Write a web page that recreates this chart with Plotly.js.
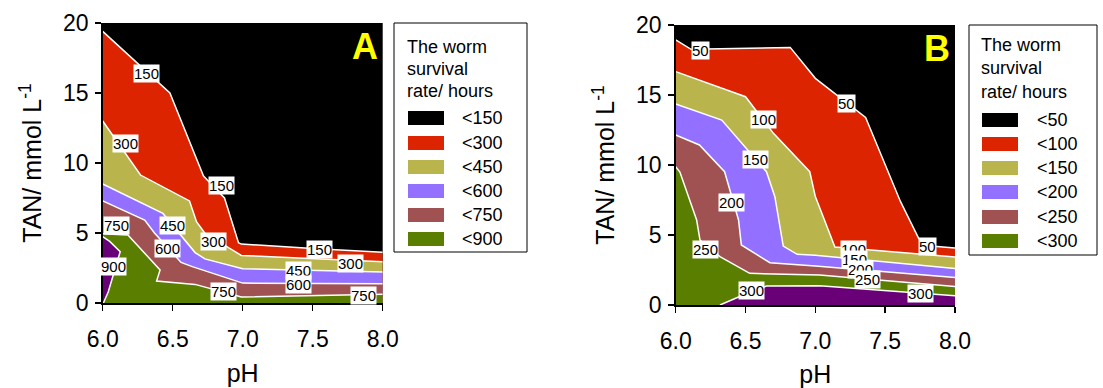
<!DOCTYPE html>
<html>
<head>
<meta charset="utf-8">
<script src="https://cdn.plot.ly/plotly-3.0.1.min.js"></script>
<style>html,body{margin:0;padding:0;background:#fff;}#chart{width:1103px;height:388px;}</style>
</head>
<body>
<div id="chart"></div>
<script>
// ---------- Panel A data (pH vs TAN contour boundaries, hours) ----------
const a150_x = [6.0, 6.48, 6.72, 6.87, 6.97, 6.99, 7.5, 8.0];
const a150_y = [19.4, 15.0, 9.07, 7.5, 4.31, 4.21, 3.9, 3.62];
const a300_x = [6.0, 6.27, 6.62, 6.67, 6.73, 6.99, 8.0];
const a300_y = [13.0, 9.14, 7.29, 5.81, 4.98, 3.4, 2.95];
const a450_x = [6.0, 6.43, 6.66, 6.73, 7.0, 8.0];
const a450_y = [8.5, 6.4, 3.6, 3.15, 2.45, 2.22];
const a600_x = [6.0, 6.30, 6.37, 6.56, 6.64, 7.0, 8.0];
const a600_y = [7.29, 5.93, 5.0, 2.9, 2.6, 1.42, 1.38];
const a750_x = [6.0, 6.18, 6.41, 6.385, 6.66, 6.99, 8.0];
const a750_y = [4.95, 4.86, 2.36, 1.57, 1.33, 0.43, 0.62];
const a900_x = [6.0, 6.05, 6.125, 6.09, 6.04, 6.005, 6.0];
const a900_y = [4.74, 4.4, 3.67, 2.5, 0.8, 0, 0];

const aLabel_x = [6.31, 6.16, 6.85, 6.50, 6.10, 6.46, 6.79, 6.08, 7.55, 7.77, 7.40, 7.40, 6.86, 7.86];
const aLabel_y = [16.4, 11.4, 8.38, 5.57, 5.52, 3.86, 4.38, 2.6, 3.79, 2.83, 2.31, 1.29, 0.81, 0.57];
const aLabel_t = ["150","300","150","450","750","600","300","900","150","300","450","600","750","750"];

const aLegend = ["<150","<300","<450","<600","<750","<900"];

// ---------- Panel B data ----------
const b50_x = [6.0, 6.11, 6.82, 7.0, 7.36, 7.61, 7.74, 7.85, 8.0];
const b50_y = [18.93, 18.26, 18.4, 16.19, 13.4, 7.38, 4.76, 4.2, 4.07];
const b100_x = [6.0, 6.5, 6.70, 6.96, 7.0, 7.14, 8.0];
const b100_y = [16.67, 14.88, 12.26, 9.52, 7.74, 4.14, 3.43];
const b150_x = [6.0, 6.33, 6.65, 6.71, 6.77, 6.87, 7.0, 8.0];
const b150_y = [14.36, 13.21, 9.52, 7.74, 4.21, 3.62, 3.55, 2.6];
const b200_x = [6.0, 6.17, 6.35, 6.45, 6.47, 6.675, 7.0, 8.0];
const b200_y = [12.14, 11.43, 9.52, 6.07, 4.29, 3.02, 2.79, 1.96];
const b250_x = [6.0, 6.03, 6.15, 6.174, 6.317, 6.53, 7.03, 8.0];
const b250_y = [9.88, 9.5, 6.07, 4.64, 3.45, 2.26, 2.14, 1.32];
const b300_x = [6.317, 6.45, 6.65, 7.03, 8.0];
const b300_y = [0, 0.57, 1.36, 1.38, 0.66];

const bLabel_x = [6.18, 7.22, 6.63, 6.57, 6.40, 6.21, 7.27, 7.28, 7.32, 7.37, 7.80, 6.54, 7.75];
const bLabel_y = [18.2, 14.36, 13.26, 10.4, 7.31, 3.98, 3.98, 3.26, 2.55, 1.83, 4.17, 1.02, 0.85];
const bLabel_t = ["50","50","100","150","200","250","100","150","200","250","50","300","300"];

const bLegend = ["<50","<100","<150","<200","<250","<300"];

// ---------- styles ----------
const COLORS = ["#000000", "#DC2500", "#B9B44C", "#9370FF", "#A05252", "#5A7F00"];
const DARKPURPLE = "#6A0078";
const FONT = "Arial, 'Liberation Sans', sans-serif";
const W = 1103, H = 388;
const px = v => v / W;
const py = v => 1 - v / H;

function band(x, y, color, xa, ya, fill) {
  return {
    type: "scatter", mode: "lines", x: x, y: y, xaxis: xa, yaxis: ya,
    fill: fill || "tozeroy", fillcolor: color,
    line: {color: "#ffffff", width: 1.5}, hoverinfo: "skip", showlegend: false
  };
}

const traces = [
  band(a150_x, a150_y, COLORS[1], "x", "y"),
  band(a300_x, a300_y, COLORS[2], "x", "y"),
  band(a450_x, a450_y, COLORS[3], "x", "y"),
  band(a600_x, a600_y, COLORS[4], "x", "y"),
  band(a750_x, a750_y, COLORS[5], "x", "y"),
  band(a900_x, a900_y, DARKPURPLE, "x", "y", "toself"),
  band(b50_x, b50_y, COLORS[1], "x2", "y2"),
  band(b100_x, b100_y, COLORS[2], "x2", "y2"),
  band(b150_x, b150_y, COLORS[3], "x2", "y2"),
  band(b200_x, b200_y, COLORS[4], "x2", "y2"),
  band(b250_x, b250_y, COLORS[5], "x2", "y2"),
  band(b300_x, b300_y, DARKPURPLE, "x2", "y2")
];

const annotations = [];
const shapes = [];

function contourLabels(xs, ys, ts, xref, yref) {
  for (let i = 0; i < ts.length; i++) {
    annotations.push({
      x: xs[i], y: ys[i], xref: xref, yref: yref, text: ts[i], showarrow: false,
      font: {family: FONT, size: 15, color: "#000"}, bgcolor: "#ffffff", borderpad: 0,
      xanchor: "center", yanchor: "middle"
    });
  }
}
contourLabels(aLabel_x, aLabel_y, aLabel_t, "x", "y");
contourLabels(bLabel_x, bLabel_y, bLabel_t, "x2", "y2");

function legendBox(left, top, right, bottom, textX, swX, labelX, titleYs, rowYs, labels) {
  shapes.push({type: "rect", xref: "paper", yref: "paper",
    x0: px(left), x1: px(right), y0: py(bottom), y1: py(top),
    line: {color: "#000", width: 1}, fillcolor: "#fff"});
  const titles = ["The worm", "survival", "rate/ hours"];
  titles.forEach((t, i) => annotations.push({
    xref: "paper", yref: "paper", x: px(textX), y: py(titleYs[i]), text: t, showarrow: false,
    xanchor: "left", yanchor: "middle", font: {family: FONT, size: 18, color: "#000"}
  }));
  labels.forEach((t, i) => {
    shapes.push({type: "rect", xref: "paper", yref: "paper",
      x0: px(swX), x1: px(swX + 36), y0: py(rowYs[i] + 7), y1: py(rowYs[i] - 7),
      line: {width: 0}, fillcolor: COLORS[i]});
    annotations.push({
      xref: "paper", yref: "paper", x: px(labelX), y: py(rowYs[i]), text: t.replace("<", "&lt;"), showarrow: false,
      xanchor: "left", yanchor: "middle", font: {family: FONT, size: 18, color: "#000"}
    });
  });
}
legendBox(394, 23, 527, 252, 405, 408, 460, [47, 69, 91], [118, 143, 167, 191, 215, 239], aLegend);
legendBox(969, 25, 1097, 255, 979, 982, 1035, [45, 68, 92], [120, 144, 168, 192, 217, 241], bLegend);

// panel letters
annotations.push({xref: "x domain", yref: "y domain", x: 0.99, y: 0.995, text: "<b>A</b>", showarrow: false,
  xanchor: "right", yanchor: "top", font: {family: FONT, size: 36, color: "#FFFF00"}});
annotations.push({xref: "x2 domain", yref: "y2 domain", x: 0.99, y: 0.995, text: "<b>B</b>", showarrow: false,
  xanchor: "right", yanchor: "top", font: {family: FONT, size: 36, color: "#FFFF00"}});

function xaxis(domain, anchor) {
  return {domain: domain, anchor: anchor, range: [6, 8], tickmode: "array",
    tickvals: [6, 6.5, 7, 7.5, 8], ticktext: ["6.0", "6.5", "7.0", "7.5", "8.0"],
    ticks: "outside", ticklen: 6, tickwidth: 1.5, tickcolor: "#000", ticklabelstandoff: 9,
    showline: true, linecolor: "#000", linewidth: 1.5, showgrid: false, zeroline: false,
    tickfont: {family: FONT, size: 23, color: "#000"},
    title: {text: "pH", font: {family: FONT, size: 25, color: "#000"}, standoff: 13}};
}
function yaxis(domain, anchor) {
  return {domain: domain, anchor: anchor, range: [0, 20], tickvals: [0, 5, 10, 15, 20],
    ticks: "outside", ticklen: 6, tickwidth: 1.5, tickcolor: "#000", ticklabelstandoff: 2,
    showline: true, linecolor: "#000", linewidth: 1.5, showgrid: false, zeroline: false,
    tickfont: {family: FONT, size: 23, color: "#000"},
    title: {text: "TAN/ mmol L<sup>-1</sup>", font: {family: FONT, size: 25, color: "#000"}, standoff: 14}};
}

const layout = {
  width: W, height: H, margin: {l: 0, r: 0, t: 0, b: 0},
  paper_bgcolor: "#fff", plot_bgcolor: "#000", showlegend: false,
  xaxis: xaxis([px(102.7), px(382.7)], "y"),
  yaxis: yaxis([1 - 303 / H, 1 - 23 / H], "x"),
  xaxis2: xaxis([px(675.7), px(955)], "y2"),
  yaxis2: yaxis([1 - 305 / H, 1 - 25 / H], "x2"),
  annotations: annotations, shapes: shapes
};

Plotly.newPlot("chart", traces, layout, {displayModeBar: false, staticPlot: true});
</script>
</body>
</html>
